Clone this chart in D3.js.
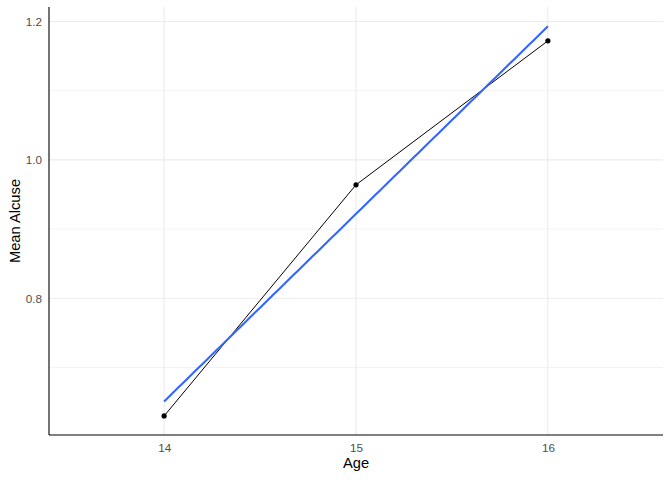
<!DOCTYPE html>
<html><head><meta charset="utf-8">
<script src="https://cdn.jsdelivr.net/npm/d3@7"></script>
<style>body{margin:0;background:#fff}svg{display:block}</style>
</head><body>
<script>
const ages = [14, 15, 16];
const meanAlcuse = [0.630, 0.964, 1.172];
const xTicks = [14, 15, 16];
const yTicks = [0.8, 1.0, 1.2];
const yMinor = [0.7, 0.9, 1.1];

const W = 672, H = 480;
const L = 49, R = 663, T = 7, B = 435;
const svg = d3.select("body").append("svg").attr("width", W).attr("height", H);

const x = d3.scaleLinear().domain([13.4, 16.6]).range([L, R]);
const y = d3.scaleLinear().domain([0.6025, 1.2209]).range([B, T]);

// linear fit
const n = ages.length;
const mx = d3.mean(ages), my = d3.mean(meanAlcuse);
const slope = d3.sum(ages.map((a, i) => (a - mx) * (meanAlcuse[i] - my))) / d3.sum(ages.map(a => (a - mx) ** 2));
const icpt = my - slope * mx;
const fitX = d3.range(0, 81).map(i => 14 + i * 2 / 80);

// grid
const g = svg.append("g");
g.selectAll(".ymin").data(yMinor).join("line")
  .attr("x1", L).attr("x2", R).attr("y1", d => y(d)).attr("y2", d => y(d))
  .attr("stroke", "#ebebeb").attr("stroke-width", 0.6);
g.selectAll(".ymaj").data(yTicks).join("line")
  .attr("x1", L).attr("x2", R).attr("y1", d => y(d)).attr("y2", d => y(d))
  .attr("stroke", "#ebebeb").attr("stroke-width", 1.1);
g.selectAll(".xmaj").data(xTicks).join("line")
  .attr("x1", d => x(d)).attr("x2", d => x(d)).attr("y1", T).attr("y2", B)
  .attr("stroke", "#ebebeb").attr("stroke-width", 1.1);

// data line
const line = d3.line().x(d => x(d[0])).y(d => y(d[1]));
svg.append("path").datum(ages.map((a, i) => [a, meanAlcuse[i]]))
  .attr("d", line).attr("fill", "none").attr("stroke", "#000").attr("stroke-width", 1);

// fit
svg.append("path").datum(fitX.map(a => [a, icpt + slope * a]))
  .attr("d", line).attr("fill", "none").attr("stroke", "#3366FF").attr("stroke-width", 2.1);

// points
svg.selectAll(".pt").data(ages).join("circle")
  .attr("cx", d => x(d)).attr("cy", (d, i) => y(meanAlcuse[i])).attr("r", 2.6).attr("fill", "#000");

// axes
const xa = svg.append("g").attr("transform", `translate(0,${B})`)
  .call(d3.axisBottom(x).tickValues(xTicks).tickSize(0).tickPadding(9).tickFormat(d3.format("d")));
xa.select(".domain").remove();
const ya = svg.append("g").attr("transform", `translate(${L},0)`)
  .call(d3.axisLeft(y).tickValues(yTicks).tickSize(0).tickPadding(7).tickFormat(d3.format(".1f")));
ya.select(".domain").remove();
svg.selectAll(".tick text").attr("fill", "#4d4d4d").attr("font-family", "Liberation Sans, Arial, sans-serif").attr("font-size", "11.7px");

svg.append("line").attr("x1", L).attr("x2", R).attr("y1", B).attr("y2", B).attr("stroke", "#000").attr("stroke-width", 1.1);
svg.append("line").attr("x1", L).attr("x2", L).attr("y1", T).attr("y2", B).attr("stroke", "#000").attr("stroke-width", 1.1);

svg.append("text").attr("x", (L + R) / 2).attr("y", 468).attr("text-anchor", "middle")
  .attr("font-family", "Liberation Sans, Arial, sans-serif").attr("font-size", "14.7px").attr("fill", "#000").text("Age");
svg.append("text").attr("transform", `translate(20,${(T + B) / 2}) rotate(-90)`).attr("text-anchor", "middle")
  .attr("font-family", "Liberation Sans, Arial, sans-serif").attr("font-size", "14.7px").attr("fill", "#000").text("Mean Alcuse");
</script>
</body></html>
